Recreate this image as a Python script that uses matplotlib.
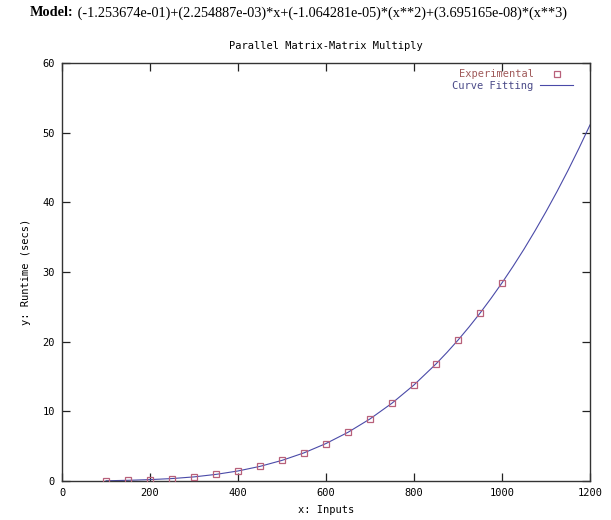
import matplotlib
matplotlib.use("Agg")
import matplotlib.pyplot as plt

# experimental runtimes
exp_x = [100, 150, 200, 250, 300, 350, 400, 450, 500, 550, 600,
         650, 700, 750, 800, 850, 900, 950, 1000]
exp_y = [0.03, 0.10, 0.20, 0.35, 0.59, 0.95, 1.44, 2.10, 2.96, 4.04, 5.38,
         6.99, 8.91, 11.17, 13.79, 16.80, 20.22, 24.09, 28.44]

# fitted curve
fit_x = [100, 150, 200, 250, 300, 350, 400, 450, 500, 550, 600, 650,
         700, 750, 800, 850, 875, 900, 925, 950, 975, 1000, 1025, 1050,
         1075, 1100, 1125, 1150, 1175, 1200]
fit_y = [0.03, 0.10, 0.20, 0.35, 0.59, 0.95, 1.44, 2.10, 2.96, 4.04, 5.38, 6.99,
         8.91, 11.17, 13.79, 16.80, 18.46, 20.22, 22.10, 24.09, 26.21, 28.44, 30.80, 33.28,
         35.91, 38.66, 41.55, 44.58, 47.77, 51.11]

xticks = [0, 200, 400, 600, 800, 1000, 1200]
yticks = [0, 10, 20, 30, 40, 50, 60]

mono = "DejaVu Sans Mono"
fs = 7.5

fig = plt.figure(figsize=(6.11, 5.2), dpi=100)
ax = fig.add_axes([62 / 611, 1 - 481 / 520, 528 / 611, 418 / 520])

ax.plot(fit_x, fit_y, color="#4a4aa8", lw=0.8, label="Curve Fitting", zorder=2)
ax.plot(exp_x, exp_y, ls="none", marker="s", ms=3.8, mfc="none", mec="#b8607a",
        mew=0.9, label="Experimental", zorder=3)

ax.set_xlim(0, 1200)
ax.set_ylim(0, 60)
ax.set_xticks(xticks)
ax.set_yticks(yticks)
ax.tick_params(direction="in", length=6, width=0.9, top=True, right=True,
               labelsize=fs, color="#222222", pad=5)
for lab in ax.get_xticklabels() + ax.get_yticklabels():
    lab.set_family(mono)
for s in ax.spines.values():
    s.set_color("#333333")
    s.set_linewidth(1.0)

ax.set_xlabel("x: Inputs", family=mono, fontsize=fs, labelpad=5)
ax.set_ylabel("y: Runtime (secs)", family=mono, fontsize=fs, labelpad=8)
ax.set_title("Parallel Matrix-Matrix Multiply", family=mono, fontsize=fs, pad=10)

h, l = ax.get_legend_handles_labels()
leg = ax.legend(h[::-1], l[::-1], loc="upper right", frameon=False,
                markerfirst=False, prop={"family": mono, "size": fs},
                handlelength=3.2, handletextpad=0.6, labelspacing=0.15,
                borderaxespad=0.2, bbox_to_anchor=(0.98, 1.0))
leg.get_texts()[0].set_color("#a05a5a")
leg.get_texts()[1].set_color("#4a4a88")

# heading above the plot: bold "Model:" then the fitted polynomial
head = fig.text(30 / 611, 1 - 13 / 520, "Model:", family="Liberation Serif",
                fontsize=10.3, weight="bold", va="center")
plt.annotate(" (-1.253674e-01)+(2.254887e-03)*x+(-1.064281e-05)*(x**2)+(3.695165e-08)*(x**3)",
             xy=(1, 0.5), xycoords=head, va="center", ha="left",
             family="Liberation Serif", fontsize=10.3)

fig.savefig("out.png", dpi=100)
